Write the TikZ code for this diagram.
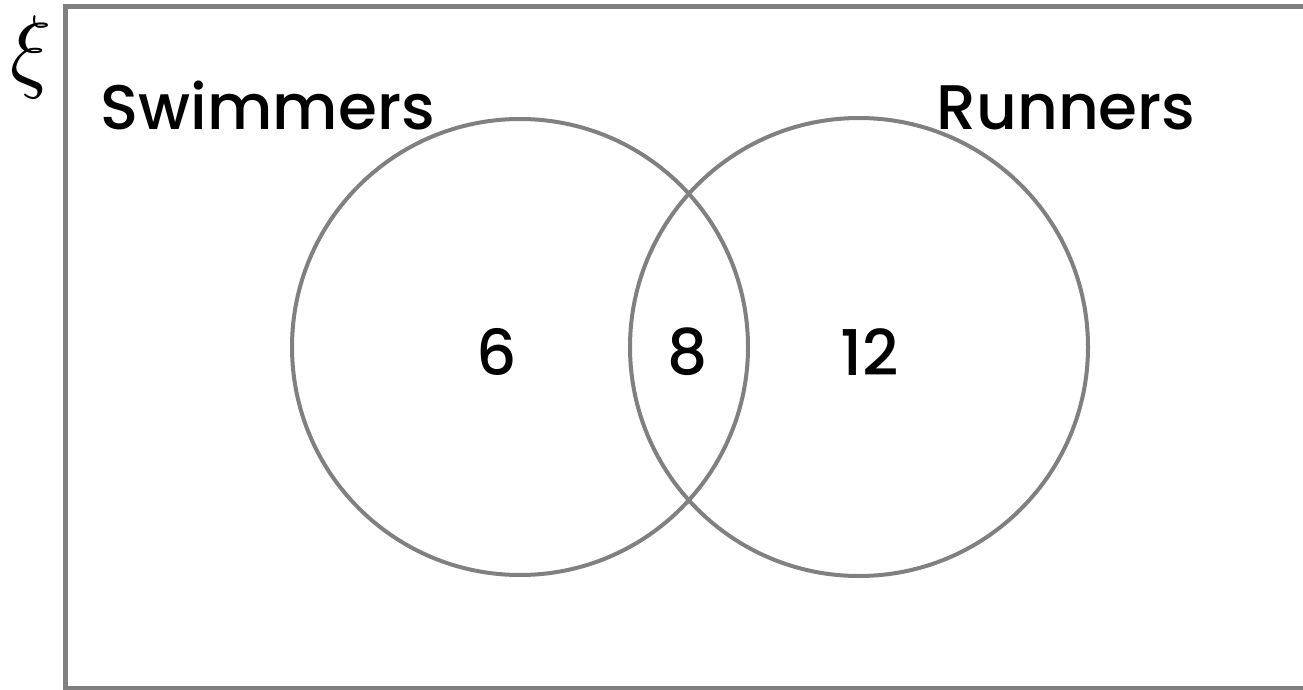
\documentclass[tikz,border=0pt]{standalone}
\usepackage{fontspec}
\setmainfont{Poppins}
\newfontfamily\medfont{Poppins Medium}
\begin{document}
\begin{tikzpicture}[x=1pt,y=-1pt,
  frame/.style={draw=black!50,line width=5pt},
  setcircle/.style={draw=black!50,line width=4pt},
  lbl/.style={font=\fontsize{63}{64}\medfont,inner sep=0pt,anchor=base},
  num/.style={font=\fontsize{63}{64}\medfont,inner sep=0pt}]
\useasboundingbox (0,0) rectangle (1303,690);
\draw[frame] (1310,7) -- (65,7) -- (65,688) -- (1310,688);
\node[inner sep=0pt,xscale=8.5,yscale=9.3] (xi) at (31,57) {$\xi$};
\draw[setcircle] (520,347) circle (228);
\draw[setcircle] (859,347) circle (229);
\node[lbl] (sw) at (268,130) {Swimmers};
\node[lbl] (ru) at (1066,130) {Runners};
\node[num] (a) at (497,352) {6};
\node[num] (b) at (688,352) {8};
\node[num] (c) at (870,352) {12};
\end{tikzpicture}
\end{document}
